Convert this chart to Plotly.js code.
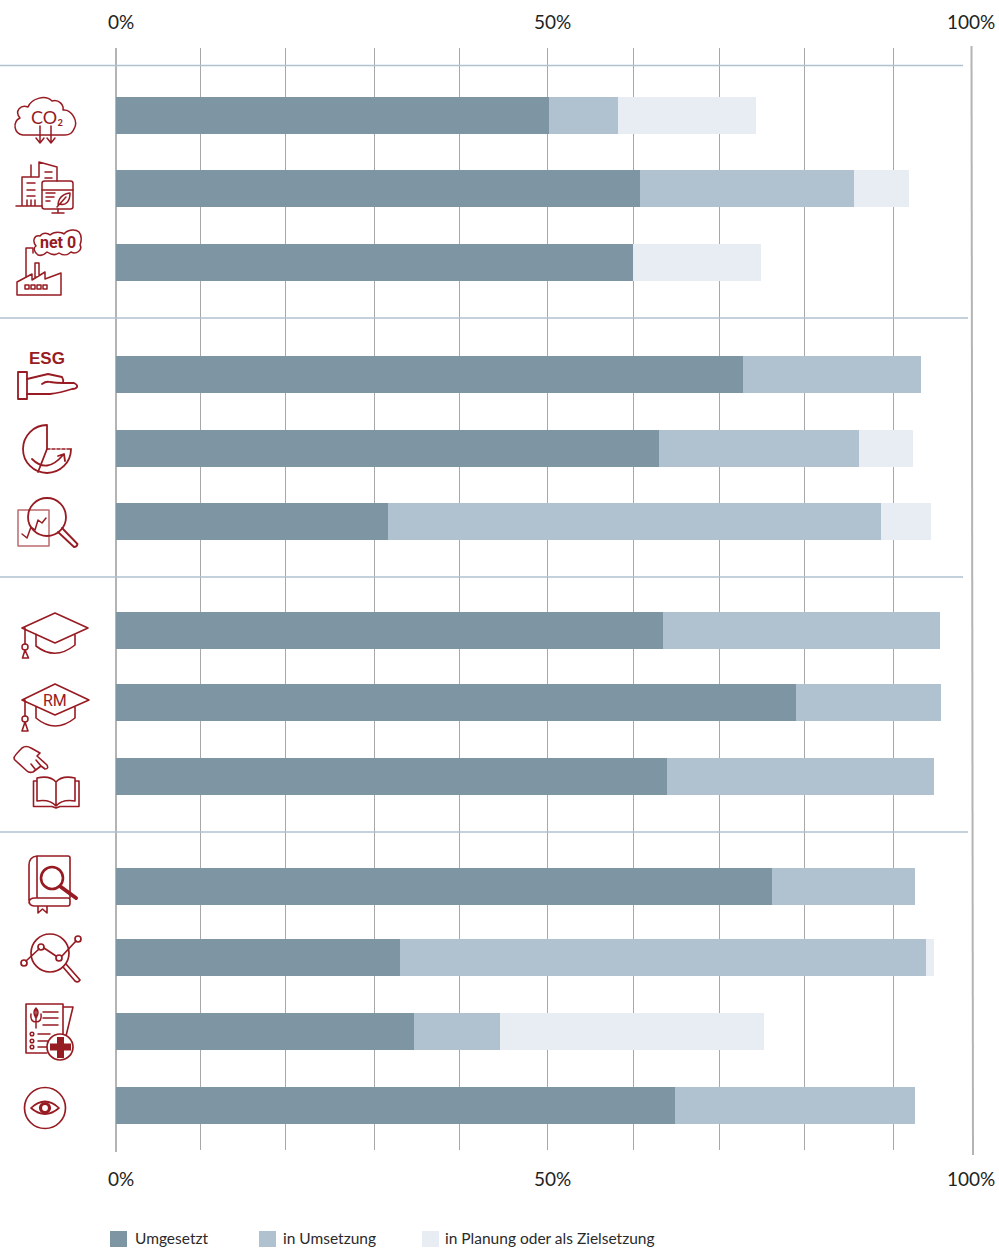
<!DOCTYPE html>
<html><head><meta charset="utf-8">
<script src="https://cdn.plot.ly/plotly-3.0.1.min.js"></script>
<style>html,body{margin:0;padding:0;background:#fff}#c{width:999px;height:1248px}</style>
</head><body><div id="c"></div>
<script>
// ---- data ----
const topics = ["CO₂-Reduktion","Gebäude und IT","Net Zero","ESG","Portfolio","Analyse","Ausbildung","RM-Ausbildung","Schulung","Prüfung","Monitoring","Gesundheit","Überwachung"];
const umgesetzt   = [50.6,61.2,60.4,73.2,63.4,31.8,63.9,79.4,64.4,76.6,33.2,34.8,65.3];
const inUmsetzung = [ 8.1,25.0, 0.0,20.8,23.4,57.6,32.4,17.0,31.2,16.7,61.4,10.1,28.0];
const inPlanung   = [16.1, 6.4,15.0, 0.0, 6.3, 5.8, 0.0, 0.0, 0.0, 0.0, 1.0,30.8, 0.0];
const seriesNames = ["Umgesetzt","in Umsetzung","in Planung oder als Zielsetzung"];
const gridVals = [9.9,19.85,30.2,40.15,50.45,60.4,70.45,80.45,90.8];
const tickLabels = ["0%","50%","100%"];
const tickLabelPos = [0.6,51.0,99.9];

// ---- layout helpers ----
const W=999,H=1248,L=116,R=972,T=48,B=1150;
const rowY=[115.5,188.5,262.5,374.5,448.5,521.5,630.5,702.5,776.5,886.5,957.5,1031.5,1105.5];
const colors=["#7e95a3","#b0c1cf","#e8edf4"];
const red="#971b22", font="Lato, 'Open Sans', sans-serif";
const px=x=>(x-L)/(R-L), py=y=>(B-y)/(B-T);

const bar=(name,vals,color)=>({type:"bar",orientation:"h",name,x:vals,y:rowY,width:37,text:topics,
  hovertemplate:"%{text}: %{x}%<extra>"+name+"</extra>",textposition:"none",marker:{color,line:{width:0}},showlegend:false});
const traces=[bar(seriesNames[0],umgesetzt,colors[0]),bar(seriesNames[1],inUmsetzung,colors[1]),bar(seriesNames[2],inPlanung,colors[2]),
  {type:"scatter",x:[],y:[],xaxis:"x2",showlegend:false,hoverinfo:"skip"},
  {type:"scatter",x:[],y:[],xaxis:"x3",showlegend:false,hoverinfo:"skip"}];

// ---- icons (decorative line art) ----
const icons=`
<g fill="none" stroke="${red}" stroke-width="1.5" stroke-linecap="round" stroke-linejoin="round">
<!-- cloud -->
<path d="M23 135C14 134 12 122 20 118C14 111 21 104 28 107C31 99 45 94 52 101C59 99 64 105 63 110C71 109 79 121 74 129C72 134 68 135 65 135H23"/>
<path d="M40 126V143M36 138L40 143L44 138M51 126V143M47 138L51 143L55 138"/>
<!-- buildings -->
<path d="M16 206H42M22 206V177H39M31 177V165M39 177V162L57 167V181M27 183H35M27 190H35M27 196H35M27 200V206M31 200V206M35 200V206M45 172H52M45 178H52"/>
<rect x="42" y="181" width="31" height="28" rx="2.5"/>
<path d="M42 190H73M58 209V213M52 213H64M46 193H55M46 197H54M46 201H50"/>
<path d="M58 206C58 197 63 194 70 193C70 201 66 206 60 204M57 207L66 197"/>
<!-- factory -->
<path d="M17 295V282L32 274V280L45 272V279L61 273V295ZM26 277V248H33M33 248V253M35 278V263H39V276"/>
<rect x="25" y="285" width="4" height="4"/><rect x="31" y="285" width="4" height="4"/><rect x="37" y="285" width="4" height="4"/><rect x="43" y="285" width="4" height="4"/>
<path d="M38 255C34 252 33 248 36 246C32 241 34 235 40 236C43 232 48 233 50 235C54 231 62 232 64 234C68 229 76 229 79 232C83 237 81 242 80 245C83 250 76 255 71 252C67 256 62 255 59 253C55 256 50 254 47 252C44 255 41 256 38 255Z"/>
<!-- ESG hand -->
<rect x="18" y="372" width="9" height="27" stroke-width="1.8"/>
<path stroke-width="1.8" d="M27 379L48 374L62 377Q64 380 63 383L74 383Q78 385 77 387Q76 389 72 389Q60 393 50 394H27M42 384Q46 381 50 382Q56 383 63 383"/>
<!-- pie -->
<path stroke-width="1.8" d="M47 425A24 24 0 1 0 71 449M47 425V449L38 472"/>
<path stroke-width="1.6" stroke-dasharray="3 2" d="M47 449H71"/>
<path stroke-width="1.8" d="M32 459Q47 474 63 455M58 456L64 454L65 461"/>
<!-- magnifier with chart -->
<rect x="18" y="510" width="31" height="36" opacity=".65"/>
<circle cx="47" cy="517" r="19" stroke-width="1.8"/>
<path stroke-width="1.8" d="M58 532L74 547Q77 547 77.500 544L62 528"/>
<path d="M22 534L27 538L31 527L35 530L38 520L42 523L46 518"/>
<!-- cap -->
<path stroke-width="1.6" d="M55 613L88 628L55 643L22 628ZM36 634V646Q55 661 75 645V635M25 628V644"/>
<circle cx="25" cy="647" r="3"/><path d="M25 650L22.500 658H28.500Z" stroke-width="1.6"/>
<!-- RM cap -->
<path stroke-width="1.6" d="M55 684L89 700L55 715L22 700ZM36 707V718Q55 734 75 718V707M25 700V716"/>
<circle cx="25" cy="719" r="3"/><path d="M25 722L22 731H28Z" stroke-width="1.6"/>
<!-- pointing hand -->
<path stroke-width="1.6" d="M14 758Q14 756 22 748Q26 745 31 748L40 753L37 756L47 765Q49 769 45 769L41 766L33 772Q29 773 27 771L16 761Q14 760 14 758ZM36 760L41 766M31 764L35 769"/>
<!-- book -->
<path stroke-width="1.6" d="M37 778Q50 775 56 782V806Q50 799 37 801ZM75 778Q62 775 56 782M75 778V801Q62 799 56 806M37 781H33.500V806.500H52L56 808L60 806.500H79V781H75"/>
<!-- book magnifier -->
<path stroke-width="1.6" d="M37 856H68Q70 856 70 858V898M37 856Q29 857 29 865V900Q29 906 34 906H68Q70 906 70 903V900Q70 898 68 898H35Q29 898 29 903M37 856V897M38 906V913L42.500 909L47 913V906"/>
<circle cx="52" cy="878" r="11" stroke-width="2.6"/><path stroke-width="4" d="M61 887L76 898"/>
<!-- magnifier with line -->
<circle cx="50" cy="953" r="19" stroke-width="1.7"/>
<path stroke-width="1.7" d="M63 967L75 981Q78 983 80 980L66 964M26 961L39 949M44 948L56 956M62 956L76 941"/>
<circle cx="24" cy="963" r="3" stroke-width="1.7"/><circle cx="41" cy="947" r="3" stroke-width="1.7"/><circle cx="59" cy="958" r="3" stroke-width="1.7"/><circle cx="78" cy="939" r="3" stroke-width="1.7"/>
<!-- document with cross -->
<path stroke-width="1.6" d="M63 1007V1004H26V1053H47M63 1007H73L66 1036M63 1007V1035"/>
<path d="M36 1008V1028M36 1008Q32 1012 36 1018Q40 1012 36 1008ZM31 1014Q30 1022 36 1022Q42 1022 41 1014M43 1012H58M43 1018H58M43 1025H58M38 1034H50M38 1041H50M38 1047H48"/>
<circle cx="32" cy="1034" r="1.800"/><circle cx="32" cy="1041" r="1.800"/><circle cx="32" cy="1047" r="1.800"/>
<circle cx="60" cy="1047" r="13" fill="#fff" stroke-width="1.7"/>
<path fill="${red}" stroke="none" d="M57 1037H64V1043.500H71V1050.500H64V1058H57V1050.500H50V1043.500H57Z"/>
<!-- eye -->
<circle cx="45" cy="1108" r="20.500" stroke-width="1.7"/>
<path stroke-width="1.7" d="M31 1108Q45 1095 59 1108Q45 1120 31 1108Z"/>
<circle cx="45" cy="1108" r="4.500" stroke-width="3.2"/>
</g>`;
const svg=`<svg xmlns="http://www.w3.org/2000/svg" width="${L}" height="${H}" viewBox="0 0 ${L} ${H}">${icons}</svg>`;

// ---- shapes ----
const line=(x0,y0,x1,y1,color,width)=>({type:"line",xref:"paper",yref:"paper",x0:px(x0),y0:py(y0),x1:px(x1),y1:py(y1),line:{color,width}});
const shapes=[
  line(0,65.5,963,65.5,"#b0c1cf",1.3),line(0,318,968,318,"#b0c1cf",1.3),
  line(0,577,963,577,"#b0c1cf",1.3),line(0,832,968,832,"#b0c1cf",1.3)];
const under=[[116,48,116,1152],[971.500,46,973,1155]].map(a=>({...line(...a,"#b4b4b4",2),layer:"below"}));
const legendX=[[110,133],[259,281],[422,443]];
const swatches=legendX.map((p,i)=>({type:"rect",xref:"paper",yref:"paper",x0:px(p[0]),x1:px(p[0]+17),y0:py(1247),y1:py(1231),fillcolor:colors[i],line:{width:0}}));

const note=(text,x,y,size,extra={})=>({text,xref:"paper",yref:"paper",x:px(x),y:py(y),showarrow:false,xanchor:"center",yanchor:"middle",
  font:{family:font,size,color:red},...extra});
const annotations=[
  ...seriesNames.map((n,i)=>note(n,legendX[i][1],1238,15.5,{xanchor:"left",font:{family:font,size:15.5,color:"#2a2a2a"}})),
  note("CO₂",47,117,18),
  note("<b>net 0</b>",58,243,16,{font:{family:"Roboto,sans-serif",size:16,color:red}}),
  note("<b>ESG</b>",47,358,17,{font:{family:"Liberation Sans,sans-serif",size:17,color:red}}),
  note("RM",55,700,16,{font:{family:"Roboto,sans-serif",size:16,color:red}})
];

const labelAxis=side=>({overlaying:"x",anchor:"y",side,range:[0,100],showgrid:false,zeroline:false,showline:false,
  tickmode:"array",tickvals:tickLabelPos,ticktext:tickLabels,ticks:"outside",ticklen:side==="top"?10:12,tickwidth:0,tickcolor:"rgba(0,0,0,0)",
  tickfont:{family:font,size:19,color:"#222"}});

const layout={width:W,height:H,margin:{l:L,r:W-R,t:T,b:H-B,pad:0},paper_bgcolor:"#fff",plot_bgcolor:"#fff",
  barmode:"stack",showlegend:false,hovermode:"closest",
  xaxis:{range:[0,100],tickmode:"array",tickvals:gridVals,showticklabels:false,ticks:"",showgrid:true,gridcolor:"#a8a8a8",gridwidth:1.3,zeroline:false,showline:false},
  xaxis2:labelAxis("bottom"),xaxis3:labelAxis("top"),
  yaxis:{range:[B,T],visible:false,showgrid:false,zeroline:false},
  shapes:[...under,...shapes,...swatches],annotations,
  images:[{source:"data:image/svg+xml;charset=utf-8,"+encodeURIComponent(svg),xref:"paper",yref:"paper",x:px(0),y:py(0),sizex:L/(R-L),sizey:H/(B-T),xanchor:"left",yanchor:"top",sizing:"stretch",layer:"above"}]
};
Plotly.newPlot("c",traces,layout,{displayModeBar:false});
</script></body></html>
